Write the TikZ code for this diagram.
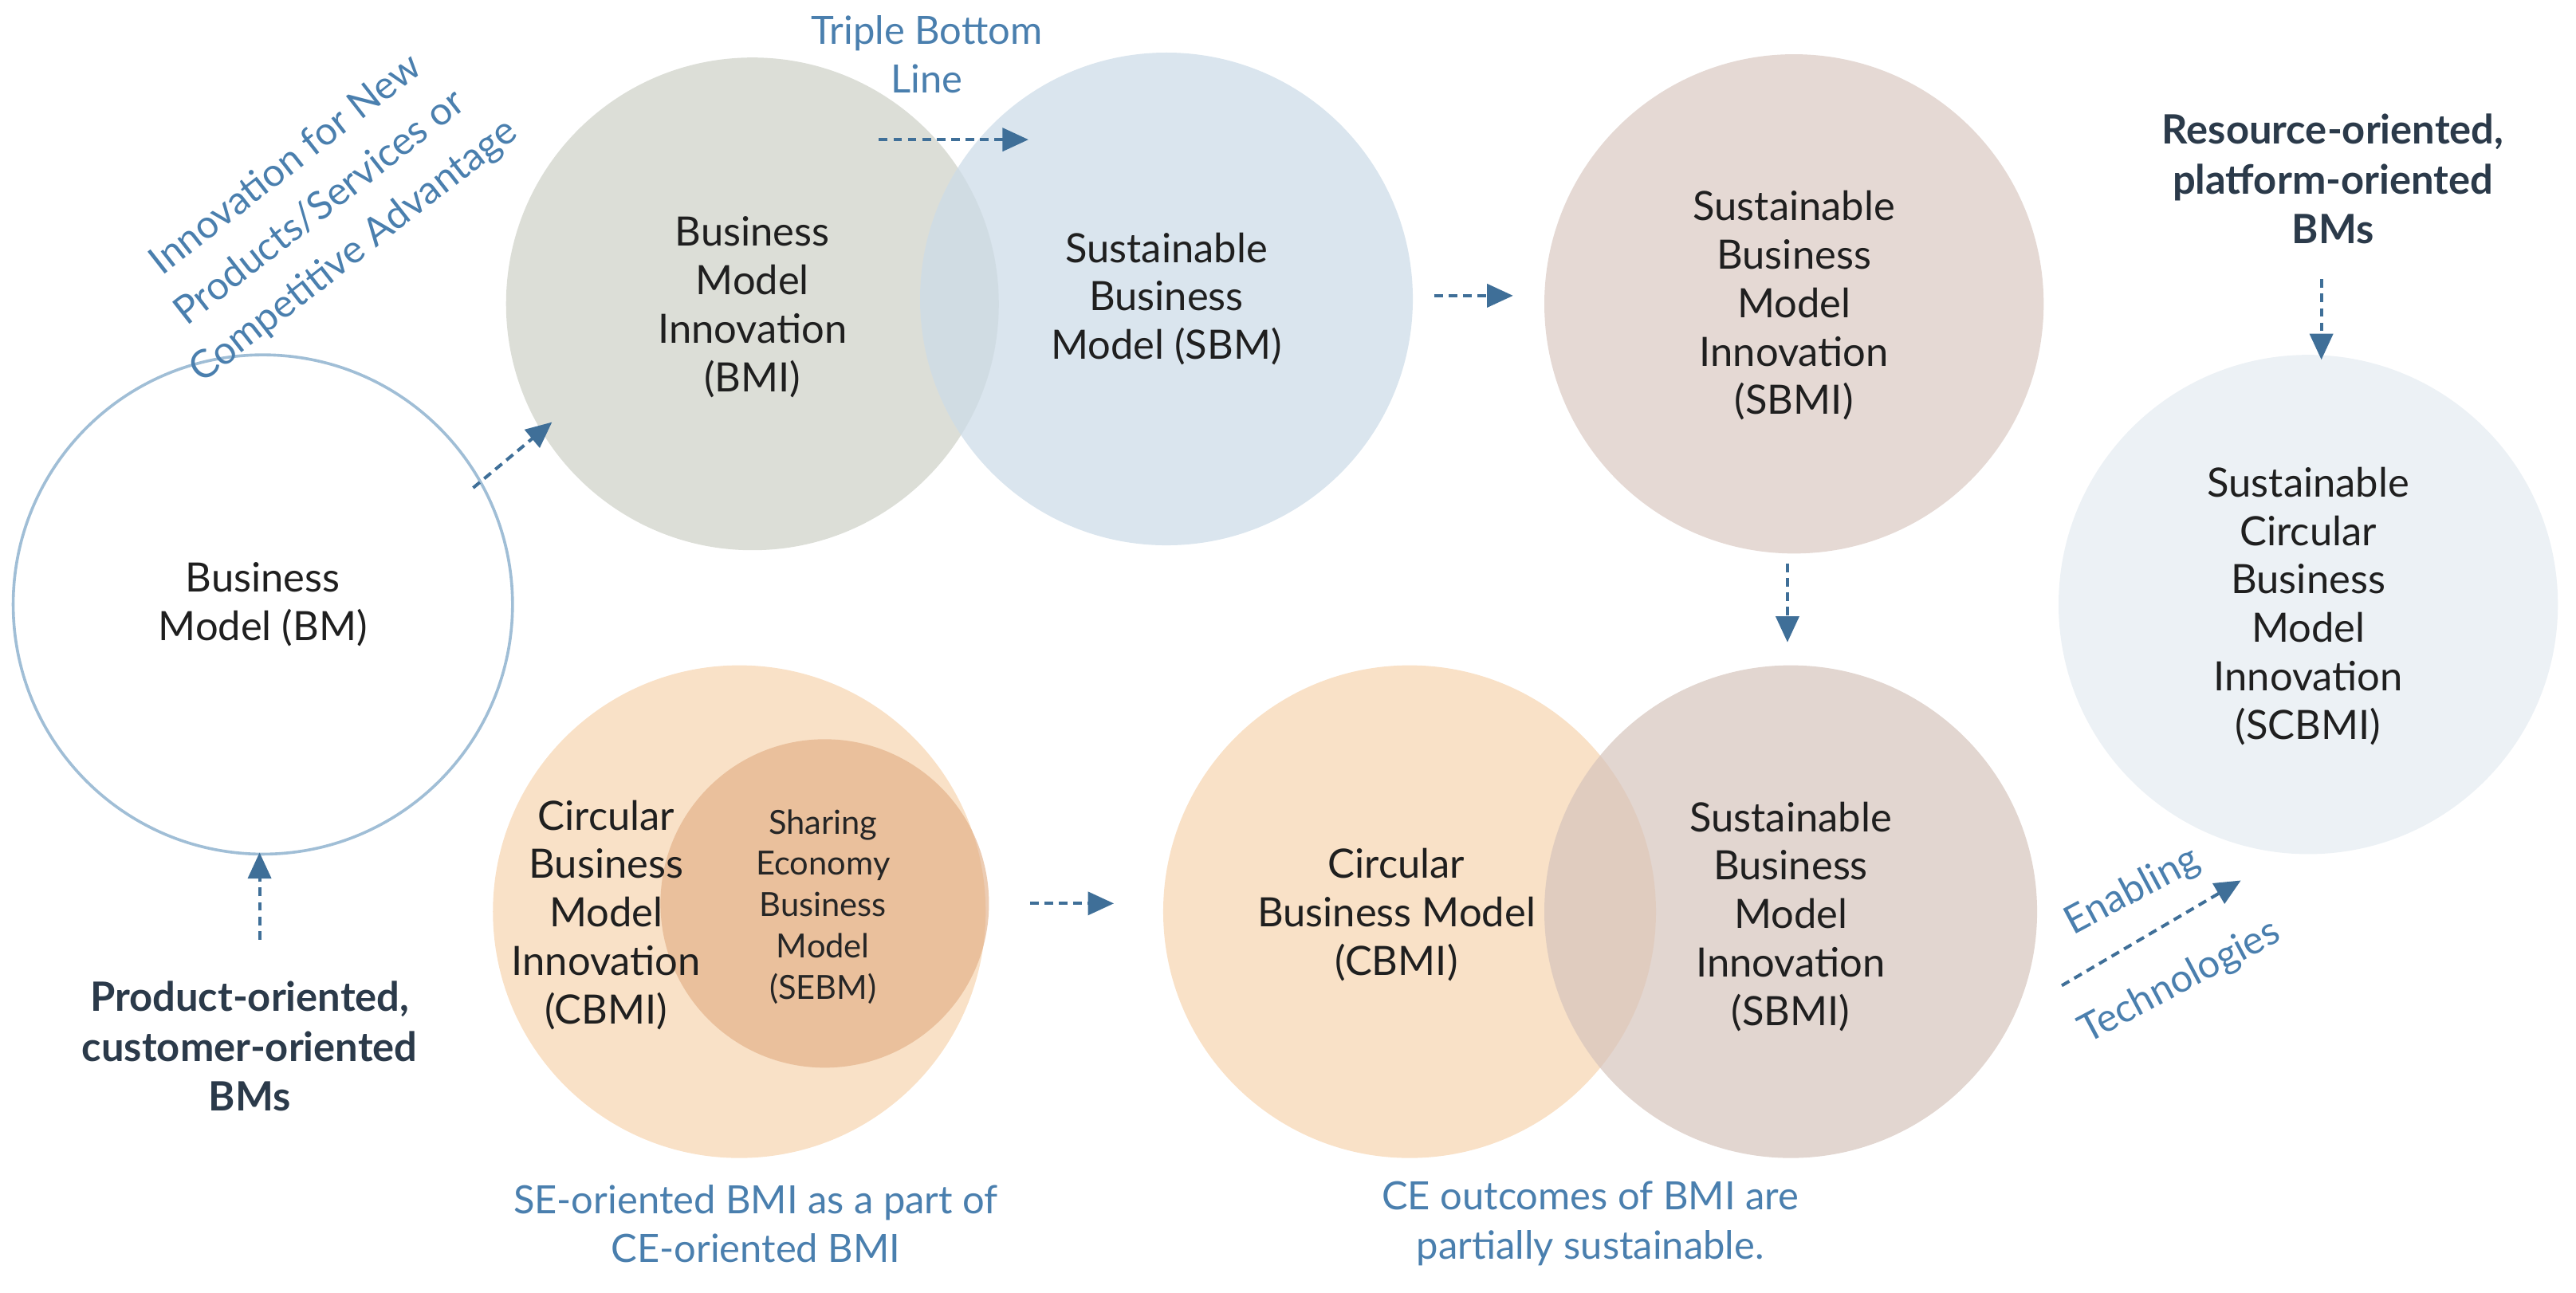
\documentclass[tikz,border=0pt]{standalone}
\usepackage{fontspec}
\setmainfont{Lato}
\usetikzlibrary{arrows.meta}
\definecolor{ab}{HTML}{3F6F98}
\definecolor{lb}{HTML}{4A7FAE}
\definecolor{dk}{HTML}{2B3A4A}
\begin{document}
\begin{tikzpicture}[x=0.02cm,y=0.02cm,
 circ/.style={circle,inner sep=0pt,minimum size=#1},
 txt/.style={align=center,font=\fontsize{14}{16.8}\selectfont,text=black!88},
 small/.style={align=center,font=\fontsize{11.5}{14.3}\selectfont,text=black!85},
 blue/.style={align=center,font=\fontsize{13.5}{17}\selectfont,text=lb},
 bold/.style={align=center,font=\bfseries\fontsize{14}{17.3}\selectfont,text=dk},
 arr/.style={draw=ab,densely dashed,line width=1.1pt,-{Triangle[length=9pt,width=8pt]}}]
\useasboundingbox (0,0) rectangle (1568,-787);
% circles
\node[circ=6.08cm,draw={rgb,255:red,160;green,190;blue,214},line width=1pt,fill=white] (bm) at (160,-368) {};
\node[circ=6cm,fill={rgb,255:red,208;green,211;blue,202},fill opacity=0.75] (bmi) at (458,-185) {};
\node[circ=6cm,fill={rgb,255:red,205;green,220;blue,232},fill opacity=0.75] (sbm) at (710,-182) {};
\node[circ=6.08cm,fill={rgb,255:red,229;green,217;blue,212}] (sbmi1) at (1092,-185) {};
\node[circ=6.08cm,fill={rgb,255:red,236;green,241;blue,245}] (scbmi) at (1405,-368) {};
\node[circ=6cm,fill={rgb,255:red,249;green,225;blue,199}] (cbmi) at (450,-555) {};
\node[circ=4cm,fill={rgb,255:red,224;green,170;blue,128},fill opacity=0.6] (sebm) at (502,-550) {};
\node[circ=6cm,fill={rgb,255:red,249;green,225;blue,199}] (cbm) at (858,-555) {};
\node[circ=6cm,fill={rgb,255:red,214;green,196;blue,188},fill opacity=0.7] (sbmi2) at (1090,-555) {};
% texts
\node[txt] (t1) at (160,-368) {Business\\Model (BM)};
\node[txt] (t2) at (458,-187) {Business\\Model\\Innovation\\(BMI)};
\node[txt] (t3) at (710,-182) {Sustainable\\Business\\Model (SBM)};
\node[txt] (t4) at (1092,-186) {Sustainable\\Business\\Model\\Innovation\\(SBMI)};
\node[txt] (t5) at (1405,-369) {Sustainable\\Circular\\Business\\Model\\Innovation\\(SCBMI)};
\node[txt] (t6) at (369,-557) {Circular\\Business\\Model\\Innovation\\(CBMI)};
\node[small] (t7) at (501,-552) {Sharing\\Economy\\Business\\Model\\(SEBM)};
\node[txt] (t8) at (850,-557) {Circular\\Business Model\\(CBMI)};
\node[txt] (t9) at (1090,-558) {Sustainable\\Business\\Model\\Innovation\\(SBMI)};
% labels
\node[blue,rotate=38,font=\fontsize{13.5}{19}\selectfont] (l1) at (195,-127) {Innovation for New\\Products/Services or\\Competitive Advantage};
\node[blue] (l2) at (564,-33) {Triple Bottom\\Line};
\node[bold] (l3) at (1420,-109) {Resource-oriented,\\platform-oriented\\BMs};
\node[bold] (l4) at (152,-637) {Product-oriented,\\customer-oriented\\BMs};
\node[blue] (l5) at (460,-745) {SE-oriented BMI as a part of\\CE-oriented BMI};
\node[blue] (l6) at (968,-745) {CE outcomes of BMI are\\partially sustainable.};
\node[blue,rotate=28] (l7) at (1298,-543) {Enabling};
\node[blue,rotate=28] (l8) at (1327,-598) {Technologies};
% arrows
\coordinate (a1) at (288,-297); \coordinate (b1) at (336,-257);
\coordinate (a2) at (535,-85); \coordinate (b2) at (626,-85);
\coordinate (a3) at (873,-180); \coordinate (b3) at (921,-180);
\coordinate (a4) at (1088,-343); \coordinate (b4) at (1088,-391);
\coordinate (a5) at (1413,-170); \coordinate (b5) at (1413,-219);
\coordinate (a6) at (158,-572); \coordinate (b6) at (158,-519);
\coordinate (a7) at (627,-550); \coordinate (b7) at (678,-550);
\coordinate (a8) at (1255,-600); \coordinate (b8) at (1364,-536);
\foreach \i in {1,...,8} \draw[arr] (a\i) -- (b\i);
\end{tikzpicture}
\end{document}
